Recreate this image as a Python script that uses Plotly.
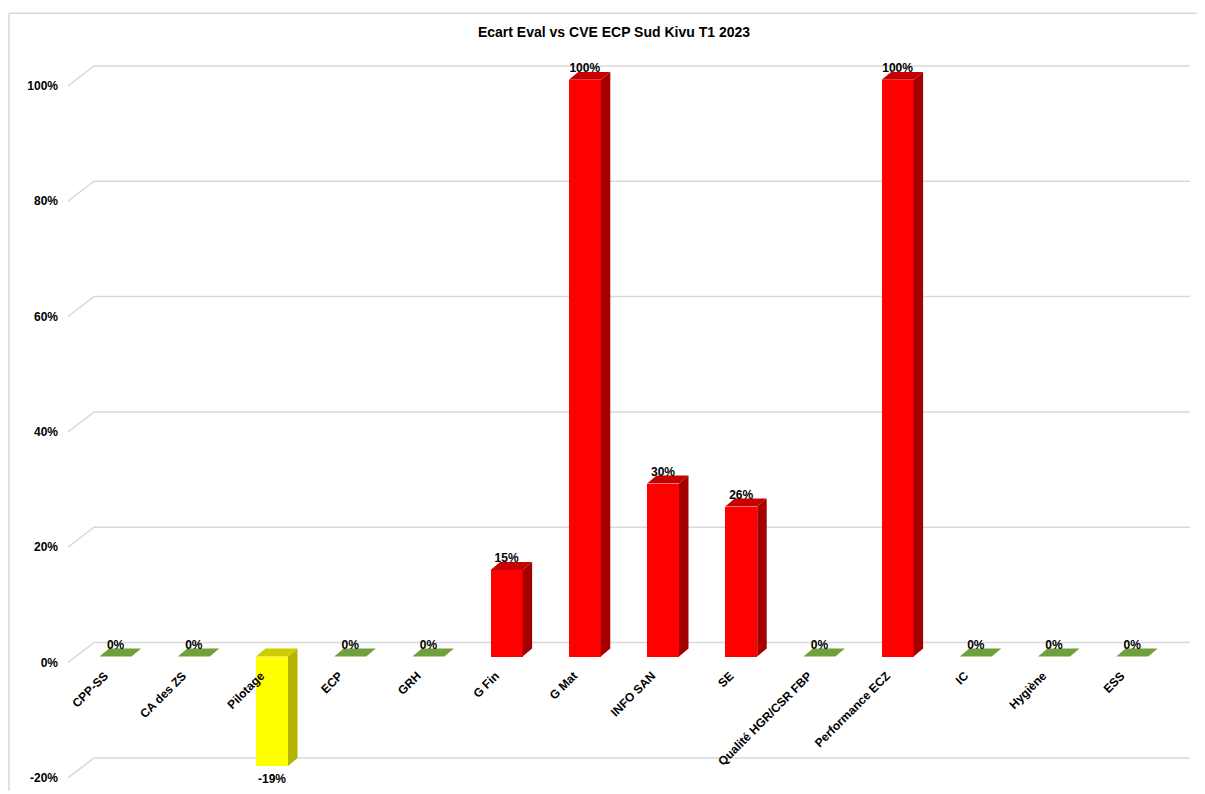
import plotly.graph_objects as go

# ---------------- data ----------------
categories = ["CPP-SS", "CA des ZS", "Pilotage", "ECP", "GRH", "G Fin", "G Mat",
              "INFO SAN", "SE", "Qualité HGR/CSR FBP", "Performance ECZ", "IC",
              "Hygiène", "ESS"]
values = [0, 0, -19, 0, 0, 15, 100, 30, 26, 0, 100, 0, 0, 0]
tick_values = [-20, 0, 20, 40, 60, 80, 100]
tick_labels = ["-20%", "0%", "20%", "40%", "60%", "80%", "100%"]
title_text = "Ecart Eval vs CVE ECP Sud Kivu T1 2023"

# ---------------- geometry / style ----------------
OFF = 8                      # page body margin of the browser
W, H = 1205 - OFF, 794 - OFF
L, R, T, B = 62 - OFF, 1192 - OFF, 45 - OFF, 785 - OFF
Z0 = 659 - OFF               # pixel row of value 0 on bar front
C0 = 115.6 - OFF             # pixel column of first category
px_per_cat = 78.2
px_per_pct = 5.79
x0 = -(C0 - L) / px_per_cat
x1 = x0 + (R - L) / px_per_cat
y_top = (Z0 - T) / px_per_pct
y_bot = (Z0 - B) / px_per_pct

bw = 32 / px_per_cat          # bar width (x units)
ddx = 9.5 / px_per_cat        # depth offset x
ddy = 8 / px_per_pct          # depth offset y

FONT = "Liberation Sans"
GRID = "#D9D9D9"


def face_colors(v):
    if v > 0:
        return "#FF0000", "#A50000", "#C80000"
    if v < 0:
        return "#FFFF00", "#B5B500", "#CCCC00"
    return "#70A03C", "#70A03C", "#70A03C"


fig = go.Figure()

# gridlines on back wall with diagonal to front plane (below all traces)
gx_front = x0 + 6 / px_per_cat
gx_back = x0 + 32 / px_per_cat
gx_right = x0 + 1128 / px_per_cat
shapes = []
for t in tick_values:
    yf = t - 6 / px_per_pct
    yb = t + 14 / px_per_pct
    shapes.append(dict(type="path", xref="x", yref="y", layer="below",
                       path=f"M {gx_front},{yf} L {gx_back},{yb} L {gx_right},{yb}",
                       line=dict(color=GRID, width=1.5)))

# chart border (top and left)
bx = (9 - OFF - L) / (R - L)
by = (B - (13 - OFF)) / (B - T)
shapes.append(dict(type="line", xref="paper", yref="paper", x0=bx, x1=(W - L) / (R - L),
                   y0=by, y1=by, line=dict(color=GRID, width=1.5)))
shapes.append(dict(type="line", xref="paper", yref="paper", x0=bx, x1=bx,
                   y0=by, y1=(B - H) / (B - T), line=dict(color=GRID, width=1.5)))

# side and top faces
for i, v in enumerate(values):
    front, side, top = face_colors(v)
    lo, hi = min(v, 0), max(v, 0)
    xl, xr = i - bw / 2, i + bw / 2
    if v != 0:
        fig.add_trace(go.Scatter(
            x=[xr, xr + ddx, xr + ddx, xr, xr],
            y=[lo, lo + ddy, hi + ddy, hi, lo],
            mode="lines", fill="toself", fillcolor=side,
            line=dict(width=0, color=side), hoverinfo="skip", showlegend=False))
    fig.add_trace(go.Scatter(
        x=[xl, xr, xr + ddx, xl + ddx, xl],
        y=[hi, hi, hi + ddy, hi + ddy, hi],
        mode="lines", fill="toself", fillcolor=top,
        line=dict(width=0, color=top), hoverinfo="skip", showlegend=False))

# front faces
fig.add_trace(go.Bar(
    x=list(range(len(categories))), y=values, width=bw,
    marker=dict(color=[face_colors(v)[0] for v in values], line=dict(width=0)),
    hoverinfo="skip", showlegend=False))

# data labels
pos_x = [i for i, v in enumerate(values) if v >= 0]
pos_y = [max(values[i], 0) + ddy - 3 / px_per_pct for i in pos_x]
pos_t = [f"{values[i]}%" for i in pos_x]
neg_x = [i for i, v in enumerate(values) if v < 0]
neg_y = [values[i] - 8 / px_per_pct for i in neg_x]
neg_t = [f"{values[i]}%" for i in neg_x]
lab_font = dict(family=FONT, size=12, color="#000000", weight="bold")
fig.add_trace(go.Scatter(x=pos_x, y=pos_y, text=pos_t, mode="text",
                         textposition="top center", textfont=lab_font,
                         hoverinfo="skip", showlegend=False, cliponaxis=False))
fig.add_trace(go.Scatter(x=neg_x, y=neg_y, text=neg_t, mode="text",
                         textposition="bottom center", textfont=lab_font,
                         hoverinfo="skip", showlegend=False, cliponaxis=False))

fig.update_layout(
    width=W, height=H, autosize=False,
    margin=dict(l=L, r=W - R, t=T, b=H - B),
    paper_bgcolor="white", plot_bgcolor="white",
    title=dict(text=title_text, x=(614 - OFF - L) / (R - L), xref="paper",
               xanchor="center", y=1 - (32 - OFF) / H, yanchor="middle",
               font=dict(family=FONT, size=14, color="#000000", weight="bold")),
    xaxis=dict(range=[x0, x1], tickmode="array",
               tickvals=[i - 11 / px_per_cat for i in range(len(categories))],
               ticktext=categories,
               tickangle=-45, showgrid=False, zeroline=False, showline=False,
               ticks="", anchor="free", position=(B - (668 - OFF)) / (B - T),
               tickfont=dict(family=FONT, size=12, color="#000000", weight="bold")),
    yaxis=dict(range=[y_bot, y_top], tickmode="array", tickvals=tick_values,
               ticktext=tick_labels, showgrid=False, zeroline=False, showline=False,
               ticks="", ticklabelshift=6, ticklabelstandoff=3,
               tickfont=dict(family=FONT, size=12, color="#000000", weight="bold")),
    bargap=0,
    shapes=shapes,
)

fig.write_html("out.html")
